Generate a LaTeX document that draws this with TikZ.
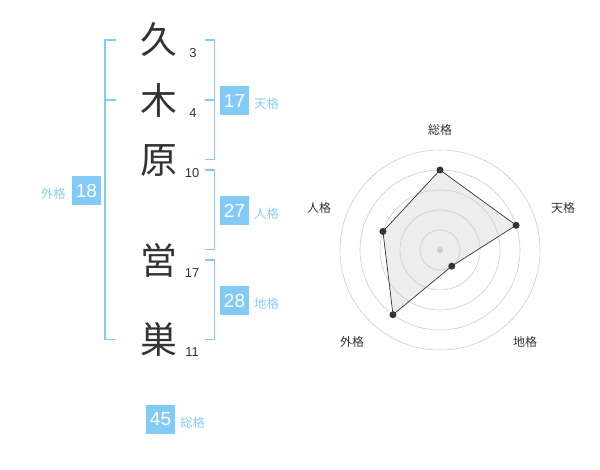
\documentclass[tikz,border=0pt]{standalone}
\usepackage{fontspec}
\setmainfont{Liberation Sans}
\newfontfamily\cjk{Noto Sans CJK JP}
\definecolor{bl}{HTML}{82CBF7}
\definecolor{lbl}{HTML}{8ACDF5}
\definecolor{dk}{HTML}{333333}
\definecolor{ring}{HTML}{CCCCCC}
\begin{document}
\begin{tikzpicture}[x=1bp,y=-1bp,
  kanji/.style={font=\cjk\fontsize{37}{37}\selectfont,text=dk,inner sep=0pt},
  strk/.style={font=\fontsize{13}{13}\selectfont,text=dk,inner sep=0pt},
  valbox/.style={fill=bl,text=white,minimum width=29bp,minimum height=29bp,inner sep=0pt,font=\fontsize{19}{19}\selectfont},
  kaku/.style={font=\cjk\fontsize{12.5}{12.5}\selectfont,text=lbl,inner sep=0pt},
  brk/.style={draw=bl,line width=1.6bp},
  radlab/.style={font=\cjk\fontsize{12}{12}\selectfont,text=dk,inner sep=0pt},
  dot/.style={circle,fill=dk,inner sep=0pt,minimum size=7bp}]
\useasboundingbox (0,0) rectangle (600,470);
% kanji
\node[kanji] (k1) at (159,40) {久};
\node[kanji] (k2) at (159,101) {木};
\node[kanji] (k3) at (159,161) {原};
\node[kanji] (k4) at (159,260) {営};
\node[kanji] (k5) at (159,339) {巣};
\node[strk] (s1) at (193,53) {3};
\node[strk] (s2) at (193,113) {4};
\node[strk] (s3) at (192,173) {10};
\node[strk] (s4) at (192,273) {17};
\node[strk] (s5) at (192,352) {11};
% brackets
\coordinate (lt) at (116,40); \coordinate (lb) at (116,339.5);
\draw[brk] (lt) -- (105,40) -- (105,339.5) -- (lb);
\coordinate (lm) at (116,100);
\draw[brk] (105,100) -- (lm);
\draw[brk] (205,40) -- (214.5,40) -- (214.5,159.5) -- (205,159.5);
\draw[brk] (205,100) -- (214.5,100);
\draw[brk] (205,170) -- (214.5,170) -- (214.5,249.5) -- (205,249.5);
\draw[brk] (205,260) -- (214.5,260) -- (214.5,339.5) -- (205,339.5);
% values
\node[valbox] (v17) at (234.5,100.5) {17};
\node[kaku,anchor=west] (t17) at (254,104) {天格};
\node[valbox] (v27) at (234.5,210.5) {27};
\node[kaku,anchor=west] (t27) at (254,214) {人格};
\node[valbox] (v28) at (234.5,300.5) {28};
\node[kaku,anchor=west] (t28) at (254,304) {地格};
\node[valbox] (v18) at (86.5,190.5) {18};
\node[kaku,anchor=east] (t18) at (66,194) {外格};
\node[valbox] (v45) at (160.5,419) {45};
\node[kaku,anchor=west] (t45) at (180,423) {総格};
% radar
\coordinate (c) at (440,250);
\coordinate (pS) at (440,170);
\path (c) ++(18:80 and -80) coordinate (pT);
\path (c) ++(-54:20 and -20) coordinate (pC);
\path (c) ++(-126:80 and -80) coordinate (pG);
\path (c) ++(162:60 and -60) coordinate (pJ);
\fill[black!7] (pS) -- (pT) -- (pC) -- (pG) -- (pJ) -- cycle;
\foreach \r in {20,40,60,80,100} \draw[ring,line width=0.6bp] (c) circle[radius=\r];
\draw[dk,line width=0.7bp] (pS) -- (pT) -- (pC) -- (pG) -- (pJ) -- cycle;
\node[circle,fill=ring,inner sep=0pt,minimum size=6bp] (cd) at (c) {};
\node[dot] (dS) at (pS) {};
\node[dot] (dT) at (pT) {};
\node[dot] (dC) at (pC) {};
\node[dot] (dG) at (pG) {};
\node[dot] (dJ) at (pJ) {};
\node[radlab] (lS) at (440,130) {総格};
\node[radlab] (lT) at (563,208) {天格};
\node[radlab] (lJ) at (319,208) {人格};
\node[radlab] (lG) at (352,342) {外格};
\node[radlab] (lC) at (525,342) {地格};
\end{tikzpicture}
\end{document}
